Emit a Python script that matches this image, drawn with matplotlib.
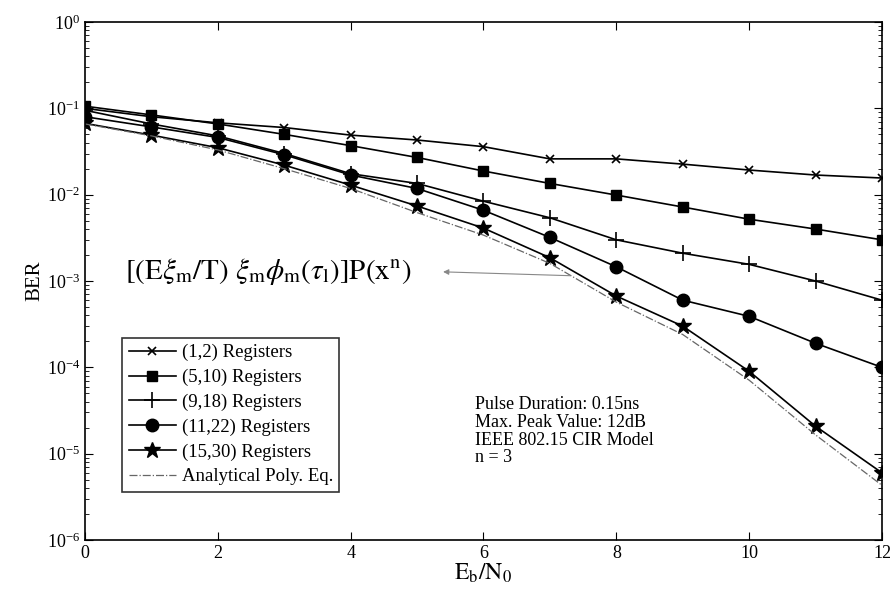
import matplotlib
matplotlib.use("Agg")
import matplotlib.pyplot as plt
from matplotlib.ticker import LogLocator, NullFormatter

plt.rcParams['font.family'] = ['Liberation Serif', 'DejaVu Serif']
plt.rcParams['mathtext.fontset'] = 'stix'

# datos
ebn0 = [0, 1, 2, 3, 4, 5, 6, 7, 8, 9, 10, 11, 12]
reg_1_2 = [0.100, 0.080, 0.068, 0.060, 0.049, 0.043, 0.036, 0.026, 0.026, 0.0226, 0.0193, 0.0169, 0.0156]
reg_5_10 = [0.106, 0.084, 0.066, 0.050, 0.037, 0.027, 0.0188, 0.0135, 0.0099, 0.0072, 0.0052, 0.0040, 0.0030]
reg_9_18 = [0.095, 0.066, 0.048, 0.030, 0.0175, 0.0135, 0.0084, 0.0054, 0.0030, 0.0021, 0.00156, 0.0010, 0.0006]
reg_11_22 = [0.080, 0.061, 0.046, 0.029, 0.0169, 0.0118, 0.0066, 0.0032, 0.00146, 0.0006, 0.00039, 0.00019, 0.0001]
reg_15_30 = [0.067, 0.049, 0.035, 0.022, 0.0129, 0.0074, 0.0041, 0.00186, 0.00067, 0.0003, 0.00009, 0.0000208, 0.0000060]
analitica = [0.066, 0.048, 0.033, 0.020, 0.0118, 0.0062, 0.0034, 0.0016, 0.00057, 0.00024, 0.000071, 0.0000165, 0.0000043]

etiquetas = ["(1,2) Registers", "(5,10) Registers", "(9,18) Registers",
             "(11,22) Registers", "(15,30) Registers", "Analytical Poly. Eq."]
notas = ["Pulse Duration: 0.15ns", "Max. Peak Value: 12dB",
         "IEEE 802.15 CIR Model", "n = 3"]

fig = plt.figure(figsize=(8.9, 5.94), dpi=100)
ax = fig.add_axes([0.0955, 0.0909, 0.8955, 0.872])

ax.semilogy(ebn0, reg_1_2, 'k-', marker='x', markersize=6, markeredgewidth=1.2, lw=1.2, label=etiquetas[0])
ax.semilogy(ebn0, reg_5_10, 'k-', marker='s', markersize=7, lw=1.2, label=etiquetas[1])
ax.semilogy(ebn0, reg_9_18, 'k-', marker='+', markersize=11, markeredgewidth=1.2, lw=1.2, label=etiquetas[2])
ax.semilogy(ebn0, reg_11_22, 'k-', marker='o', markersize=9, lw=1.2, label=etiquetas[3])
ax.semilogy(ebn0, reg_15_30, 'k-', marker='*', markersize=12, lw=1.2, label=etiquetas[4])
ax.semilogy(ebn0, analitica, color='#666666', linestyle='-.', lw=0.9, label=etiquetas[5])

ax.set_xlim(0, 12)
ax.set_ylim(1e-6, 1)
ax.set_xticks([0, 2, 4, 6, 8, 10, 12])
ax.yaxis.set_major_locator(LogLocator(base=10, numticks=10))
ax.yaxis.set_minor_locator(LogLocator(base=10, subs=range(2, 10), numticks=20))
ax.yaxis.set_minor_formatter(NullFormatter())
ax.tick_params(which='both', direction='in', top=True, right=True, labelsize=13)
ax.tick_params(which='major', length=6)
ax.tick_params(which='minor', length=3)
for s in ax.spines.values():
    s.set_linewidth(1.2)

ax.set_xlabel(r'$\mathrm{E_b/N_0}$', fontsize=17, labelpad=0)
ax.set_ylabel('BER', fontsize=15, labelpad=2)

leg = ax.legend(loc='lower left', bbox_to_anchor=(0.047, 0.093), frameon=True, fancybox=False,
                edgecolor='black', fontsize=13.5, handlelength=2.5, handletextpad=0.3,
                labelspacing=0.4, borderpad=0.35, borderaxespad=0)
leg.get_frame().set_linewidth(1.2)

ax.text(0.6, 1.3e-3, r'$[(\mathrm{E}\xi_\mathrm{m}/\mathrm{T})\ \xi_\mathrm{m}\phi_\mathrm{m}(\tau_\mathrm{l})]\mathrm{P}(\mathrm{x}^\mathrm{n})$',
        fontsize=21, va='center', ha='left')
ax.annotate('', xy=(5.35, 1.28e-3), xytext=(7.35, 1.15e-3),
            arrowprops=dict(arrowstyle='-|>', color='#888888', lw=0.8, mutation_scale=8))

ax.text(5.87, 4.6e-5, "\n".join(notas), fontsize=13, va='top', ha='left', linespacing=1.05)

fig.savefig("out.png", dpi=100)
